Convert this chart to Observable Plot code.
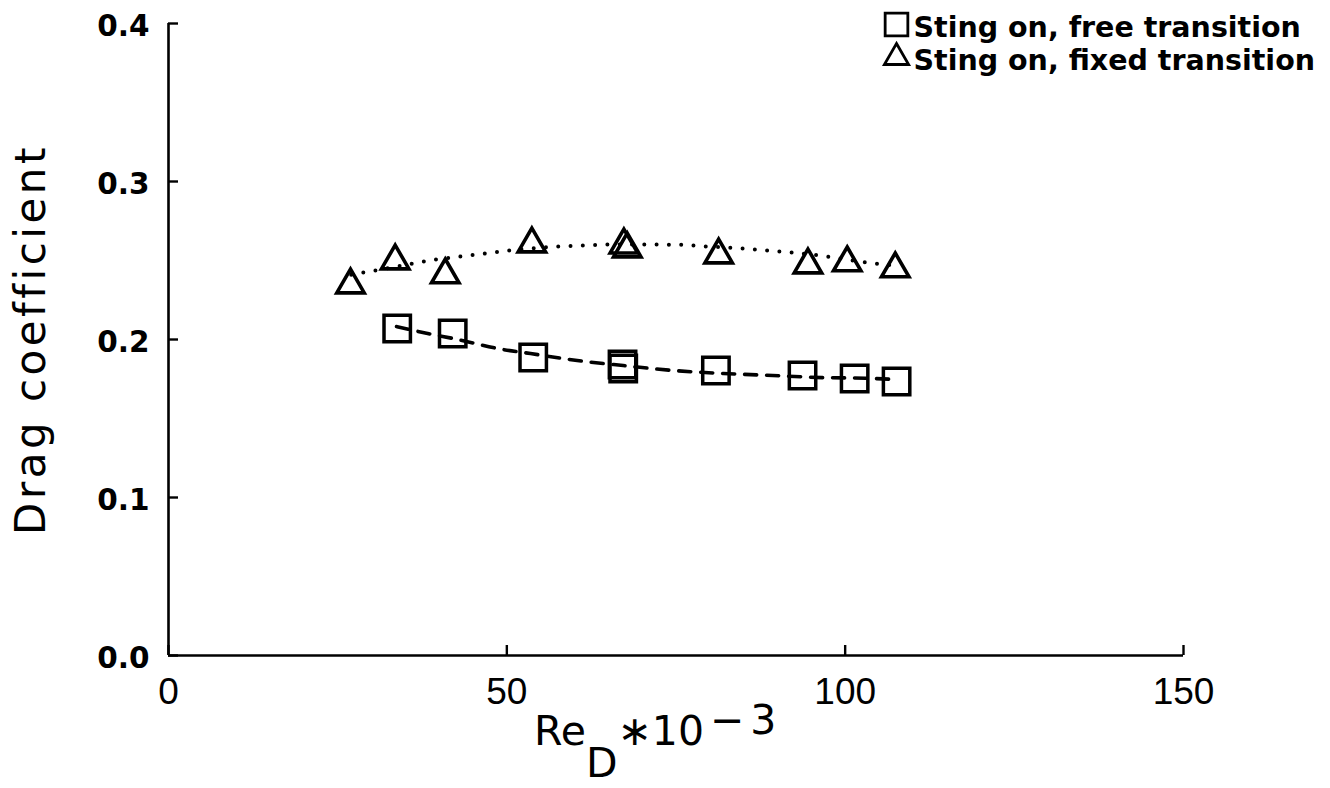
<!DOCTYPE html>
<html><head><meta charset="utf-8">
<script src="https://cdn.jsdelivr.net/npm/d3@7"></script>
<script src="https://cdn.jsdelivr.net/npm/@observablehq/plot@0.6"></script>
<style>
body{margin:0;background:#fff}
</style>
</head><body><div id="chart"></div>
<script>
// Sting on, free transition (squares)
const freeRe = [33.8, 42.0, 53.9, 67.1, 67.2, 80.9, 93.7, 101.4, 107.6];
const freeCd = [0.2070, 0.2038, 0.1886, 0.1842, 0.1816, 0.1804, 0.1772, 0.1753, 0.1734];
// Sting on, fixed transition (triangles)
const fixedRe = [26.9, 33.5, 40.9, 53.7, 67.3, 67.8, 81.3, 94.5, 100.3, 107.4];
const fixedCd = [0.2345, 0.2497, 0.2409, 0.2605, 0.2598, 0.2573, 0.2535, 0.2472, 0.2485, 0.2447];
// Fitted curves
const freeFitRe = [33.7, 38.3, 42.1, 49.4, 53.5, 60.4, 67.2, 74.6, 82.0, 89.3, 96.6, 103.0, 107.6];
const freeFitCd = [0.2082, 0.2038, 0.2006, 0.1937, 0.1911, 0.1867, 0.1835, 0.1804, 0.1785, 0.1772, 0.1759, 0.1755, 0.1747];
const fixedFitRe = [27.0, 30.6, 36.1, 39.6, 43.2, 46.7, 50.4, 57.6, 61.3, 64.9, 72.0, 75.7, 79.4, 84.8, 88.4, 91.9, 97.4, 102.6, 107.4];
const fixedFitCd = [0.2410, 0.2437, 0.2481, 0.2506, 0.2525, 0.2544, 0.2563, 0.2589, 0.2595, 0.2601, 0.2601, 0.2599, 0.2589, 0.2576, 0.2563, 0.2551, 0.2525, 0.2490, 0.2467];
// Axes
const xTicks = [0, 50, 100, 150];
const yTicks = [0.0, 0.1, 0.2, 0.3, 0.4];
const xTitle = "Re_D*10^-3";
const yTitle = "Drag coefficient";
// Legend
const legendLabels = ["Sting on, free transition", "Sting on, fixed transition"];
const legendSymbols = ["square", "triangle"];

const zip = (xs, ys) => xs.map((x, i) => ({x, y: ys[i]}));
const free = zip(freeRe, freeCd);
const fixed = zip(fixedRe, fixedCd);
const freeFit = zip(freeFitRe, freeFitCd);
const fixedFit = zip(fixedFitRe, fixedFitCd);

const W = 1330, H = 788, ML = 168, MR = 147, MT = 23, MB = 133;
const legendR = {square: 12.8, triangle: 9.0};
const legendDy = [1, 34];

const plot = Plot.plot({
  width: W, height: H,
  marginLeft: ML, marginRight: MR, marginTop: MT, marginBottom: MB,
  x: {domain: [0, 150]},
  y: {domain: [0, 0.4]},
  style: {background: "white", color: "black", fontFamily: "DejaVu Sans", overflow: "visible"},
  marks: [
    Plot.ruleX([0], {strokeWidth: 2.6}),
    Plot.ruleY([0], {strokeWidth: 2.6}),
    Plot.tickY(yTicks, {y: d => d, insetRight: (W - ML - MR) - 10, strokeWidth: 2.4}),
    Plot.tickX(xTicks, {x: d => d, insetTop: (H - MT - MB) - 10, strokeWidth: 2.4}),
    Plot.axisY(yTicks, {tickSize: 0, tickPadding: 19, dy: 3, fontSize: 29.5, fontWeight: "bold", fontFamily: "DejaVu Sans", tickFormat: d3.format(".1f"), label: null}),
    Plot.axisX(xTicks, {tickSize: 0, tickPadding: 22, fontSize: 37, fontFamily: "Liberation Sans", tickFormat: d3.format("d"), label: null}),
    Plot.line(fixedFit, {x: "x", y: "y", curve: "monotone-x", stroke: "black", strokeWidth: 4, strokeDasharray: "0,12.3", strokeLinecap: "round"}),
    Plot.line(freeFit, {x: "x", y: "y", curve: "monotone-x", stroke: "black", strokeWidth: 3.6, strokeDasharray: "12,10"}),
    Plot.dot(fixed, {x: "x", y: "y", symbol: "triangle", r: 10.2, stroke: "black", strokeWidth: 3.6, fill: "none"}),
    Plot.dot(free, {x: "x", y: "y", symbol: "square", r: 14.9, stroke: "black", strokeWidth: 3.5, fill: "none"}),
    Plot.text([yTitle], {text: d => d, frameAnchor: "left", dx: -137, rotate: -90, textAnchor: "middle", lineAnchor: "middle", fontSize: 42, fontFamily: "DejaVu Sans"}),
    Plot.text([xTitle], {text: d => d, frameAnchor: "bottom", dx: -142, dy: 76, textAnchor: "start", lineAnchor: "middle", fontSize: 41, fontFamily: "DejaVu Sans"}),
    ...legendLabels.flatMap((label, i) => [
      Plot.dot([label], {frameAnchor: "top-right", dx: -287, dy: legendDy[i], symbol: legendSymbols[i], r: legendR[legendSymbols[i]], stroke: "black", strokeWidth: 2.8, fill: "none"}),
      Plot.text([label], {text: d => d, frameAnchor: "top-right", dx: -270, dy: legendDy[i] + 3, textAnchor: "start", lineAnchor: "middle", fontSize: 28.5, fontWeight: "bold", fontFamily: "DejaVu Sans"})
    ])
  ]
});

// Rich text for the axis titles
d3.select(plot).selectAll("text").each(function() {
  const t = d3.select(this);
  if (this.textContent === xTitle) {
    t.text(null);
    t.append("tspan").text("Re");
    t.append("tspan").attr("dy", 32).text("D");
    t.append("tspan").attr("dy", -32).text("\u221710");
    t.append("tspan").attr("dy", -11).attr("dx", 6).text("\u2212");
    t.append("tspan").attr("dx", 6).text("3");
  } else if (this.textContent === yTitle) {
    t.style("letter-spacing", "3.5px");
  }
});

document.getElementById("chart").appendChild(plot);
</script>
</body></html>
